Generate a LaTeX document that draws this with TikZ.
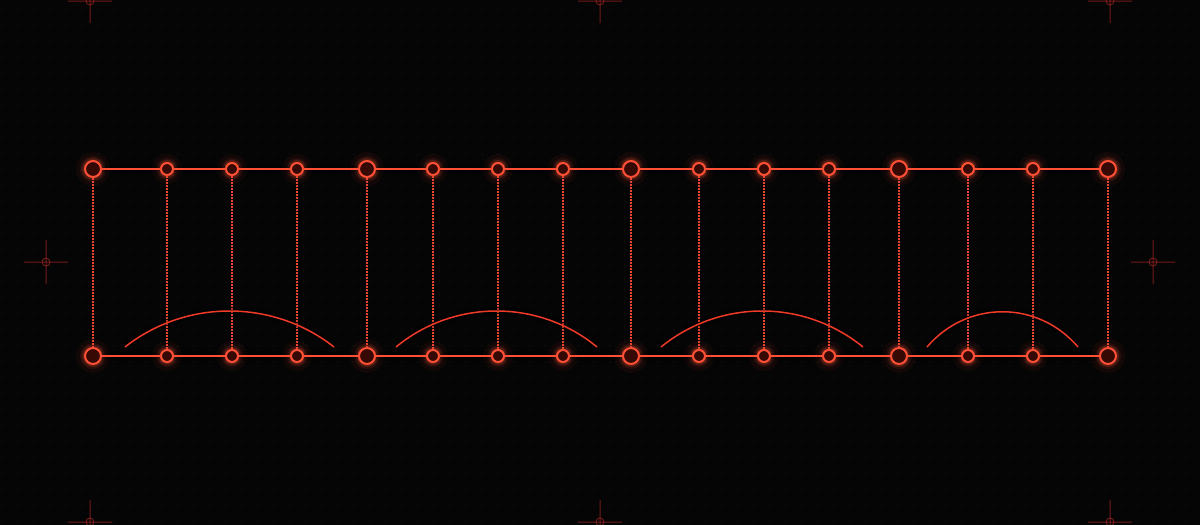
\documentclass[tikz,border=0pt]{standalone}
\usetikzlibrary{positioning}
\definecolor{bgcol}{RGB}{5,5,5}
\definecolor{neon}{RGB}{255,80,54}
\definecolor{neonfill}{RGB}{55,9,5}
\definecolor{tiecol}{RGB}{232,70,48}
\definecolor{slurcol}{RGB}{240,58,40}
\definecolor{markcol}{RGB}{115,26,26}
\definecolor{dotcol}{RGB}{32,32,32}
\tikzset{
    glow/.style={
           preaction={draw, line width=1.8*#1, opacity=0.05},
           preaction={draw, line width=#1, opacity=0.1},
           preaction={draw, line width=0.6*#1, opacity=0.2},
           },
    bignode/.style={
           circle,
           draw=neon, fill=neonfill, line width=1pt,
           minimum size=8pt,
           inner sep=0pt,
           glow=5pt,
           },
    smallnode/.style={
           bignode,
           minimum size=6pt,
           },
    rail/.style={draw=neon, line width=1pt, glow=5pt},
    tie/.style={draw=tiecol, line width=0.75pt, dash pattern=on 0.75pt off 0.75pt},
    slur/.style={draw=slurcol, line width=0.75pt, glow=3pt},
    regmark/.style={draw=markcol, line width=0.5pt},
}

\begin{document}
\begin{tikzpicture}[x=0.5pt,y=-0.5pt]
   \useasboundingbox (0,0) rectangle (1200,525);
   \fill[bgcol] (0,0) rectangle (1200,525);

   % faint dot grid
   \foreach \x in {2,18,...,1200}
     \foreach \y in {10,26,...,525}
       \fill[dotcol] (\x,\y) circle (0.7);

   % registration marks
   \foreach \p in {(46,262),(1153,262),(90,1),(600,1),(1110,1),(90,522),(600,522),(1110,522)}
     \draw[regmark] \p circle (4) +(-22,0) -- +(22,0) +(0,-22) -- +(0,22);

   % top and bottom row of beats, big ones start a bar
   \foreach \x/\s [count=\i] in {93/bignode,167/smallnode,232/smallnode,297/smallnode,
       367/bignode,433/smallnode,498/smallnode,563/smallnode,
       631/bignode,699/smallnode,764/smallnode,829/smallnode,
       899/bignode,968/smallnode,1033/smallnode,1108/bignode}
   {
     \node[\s] (t\i) at (\x,169) {};
     \node[\s] (b\i) at (\x,356) {};
   }

   % rails between neighbours and dotted ties top to bottom
   \foreach \i [remember=\i as \j (initially 1)] in {2,...,16}
   {
     \path[rail] (t\j) -- (t\i);
     \path[rail] (b\j) -- (b\i);
   }
   \foreach \i in {1,...,16}
     \path[tie] (t\i) -- (b\i);

   % one slur over each bar
   \coordinate (S1A) at (125,347);  \coordinate (S1B) at (334,347);
   \coordinate (S2A) at (396,347);  \coordinate (S2B) at (597,347);
   \coordinate (S3A) at (661,347);  \coordinate (S3B) at (863,347);
   \coordinate (S4A) at (927,347);  \coordinate (S4B) at (1078,347);
   \path[slur] (S1A) .. controls +(61,-48) and +(-61,-48) .. (S1B);
   \path[slur] (S2A) .. controls +(58,-48) and +(-58,-48) .. (S2B);
   \path[slur] (S3A) .. controls +(59,-48) and +(-59,-48) .. (S3B);
   \path[slur] (S4A) .. controls +(40,-47) and +(-40,-47) .. (S4B);

\end{tikzpicture}
\end{document}
